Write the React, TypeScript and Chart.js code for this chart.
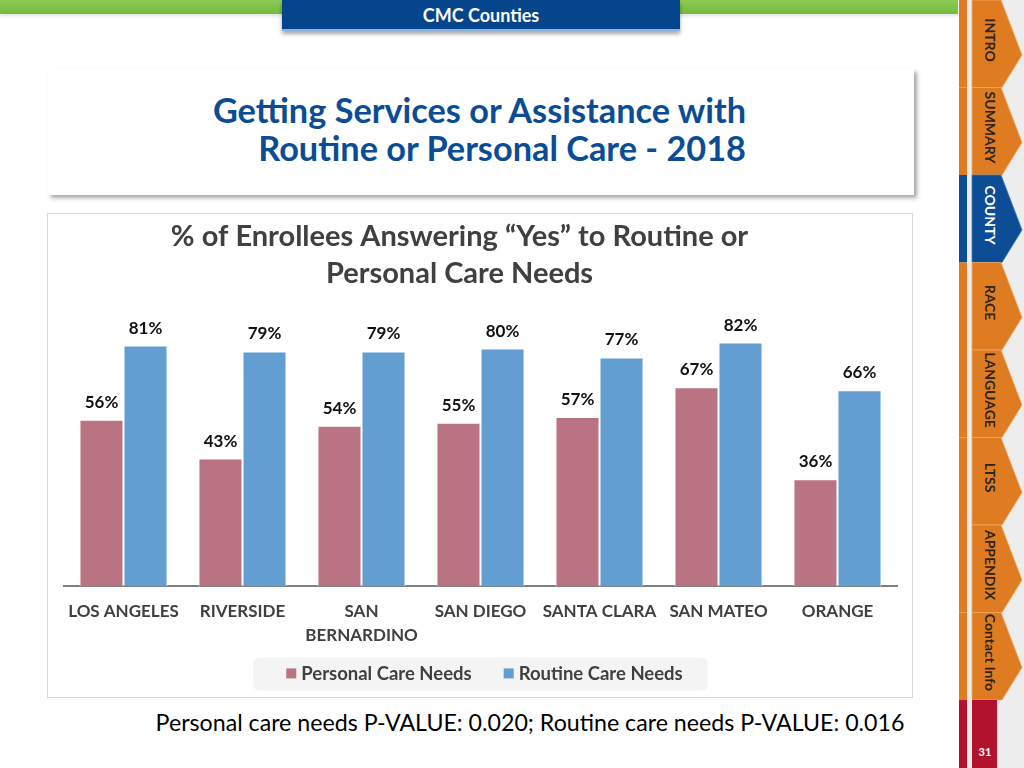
import React, { useEffect, useRef } from "react";
import { Chart, registerables } from "chart.js";

Chart.register(...registerables);

const categories: string[][] = [
  ["LOS ANGELES"],
  ["RIVERSIDE"],
  ["SAN", "BERNARDINO"],
  ["SAN DIEGO"],
  ["SANTA CLARA"],
  ["SAN MATEO"],
  ["ORANGE"],
];
const personalCare = [56, 43, 54, 55, 57, 67, 36];
const routineCare = [81, 79, 79, 80, 77, 82, 66];
const seriesNames = ["Personal Care Needs", "Routine Care Needs"];
const chartTitle = ["% of Enrollees Answering \u201cYes\u201d to Routine or", "Personal Care Needs"];
const navTabs = ["INTRO", "SUMMARY", "COUNTY", "RACE", "LANGUAGE", "LTSS", "APPENDIX", "Contact Info"];
const activeTab = "COUNTY";
const pageNumber = "31";

const PINK = "#B97382";
const BLUE = "#629ED2";
const FONT = "Lato, 'Open Sans', sans-serif";

const dataLabelPlugin = {
  id: "dataLabels",
  afterDatasetsDraw(chart: any) {
    const ctx = chart.ctx;
    ctx.save();
    ctx.font = `bold 17px ${FONT}`;
    ctx.fillStyle = "#111111";
    ctx.textAlign = "center";
    ctx.textBaseline = "alphabetic";
    chart.data.datasets.forEach((ds: any, i: number) => {
      const meta = chart.getDatasetMeta(i);
      meta.data.forEach((bar: any, j: number) => {
        ctx.fillText(ds.data[j] + "%", bar.x, bar.y - 12);
      });
    });
    ctx.restore();
  },
};

// shift the title block slightly left, as in the original slide
const titleShiftPlugin = {
  id: "titleShift",
  afterLayout(chart: any) {
    const t = chart.titleBlock;
    if (t) {
      t.left -= 21;
      t.right -= 21;
    }
  },
};

// legend drawn below the axis, with a light rounded background
const customLegendPlugin = {
  id: "customLegend",
  afterDraw(chart: any) {
    const ctx = chart.ctx;
    const area = chart.chartArea;
    const datasets = chart.data.datasets;
    ctx.save();
    ctx.font = `bold 18.5px ${FONT}`;
    const box = 10;
    const gapBoxText = 5;
    const gapItems = 32;
    const widths = datasets.map((d: any) => ctx.measureText(d.label).width);
    const total =
      widths.reduce((a: number, w: number) => a + box + gapBoxText + w, 0) +
      gapItems * (datasets.length - 1);
    const cx = (area.left + area.right) / 2 + 4;
    const cy = area.bottom + 87;
    let x = cx - total / 2;
    const bgL = x - 33;
    const bgR = cx + total / 2 + 25;
    const bgT = cy - 16;
    const bgB = cy + 17;
    const r = 6;
    ctx.fillStyle = "#F4F4F4";
    ctx.beginPath();
    ctx.moveTo(bgL + r, bgT);
    ctx.lineTo(bgR - r, bgT);
    ctx.quadraticCurveTo(bgR, bgT, bgR, bgT + r);
    ctx.lineTo(bgR, bgB - r);
    ctx.quadraticCurveTo(bgR, bgB, bgR - r, bgB);
    ctx.lineTo(bgL + r, bgB);
    ctx.quadraticCurveTo(bgL, bgB, bgL, bgB - r);
    ctx.lineTo(bgL, bgT + r);
    ctx.quadraticCurveTo(bgL, bgT, bgL + r, bgT);
    ctx.fill();
    ctx.textBaseline = "middle";
    ctx.textAlign = "left";
    datasets.forEach((d: any, i: number) => {
      ctx.fillStyle = d.backgroundColor;
      ctx.fillRect(x, cy - box / 2, box, box);
      x += box + gapBoxText;
      ctx.fillStyle = "#404040";
      ctx.fillText(d.label, x, cy + 1);
      x += widths[i] + gapItems;
    });
    ctx.restore();
  },
};

function ChartCanvas() {
  const ref = useRef<HTMLCanvasElement>(null);
  useEffect(() => {
    if (!ref.current) return;
    const chart = new Chart(ref.current, {
      type: "bar",
      data: {
        labels: categories as any,
        datasets: [
          {
            label: seriesNames[0],
            data: personalCare,
            backgroundColor: PINK,
            borderColor: "#ffffff",
            borderWidth: 1,
            categoryPercentage: 0.74,
            barPercentage: 1,
          },
          {
            label: seriesNames[1],
            data: routineCare,
            backgroundColor: BLUE,
            borderColor: "#ffffff",
            borderWidth: 1,
            categoryPercentage: 0.74,
            barPercentage: 1,
          },
        ],
      },
      options: {
        responsive: false,
        animation: false,
        devicePixelRatio: 1,
        layout: { padding: { left: 16, right: 15, top: 0, bottom: 37 } },
        plugins: {
          title: {
            display: true,
            text: chartTitle,
            color: "#404040",
            font: { family: FONT, size: 29, weight: "bold", lineHeight: 37 / 29 },
            padding: { top: 4, bottom: 0 },
          },
          legend: { display: false },
          tooltip: { enabled: false },
        },
        scales: {
          x: {
            grid: { display: false, drawTicks: false },
            border: { display: true, color: "#7F7F7F", width: 2 },
            ticks: {
              color: "#404040",
              padding: 13,
              maxRotation: 0,
              autoSkip: false,
              font: { family: FONT, size: 17, weight: "bold", lineHeight: 1.4 },
            },
          },
          y: {
            display: false,
            min: 0,
            max: 99,
          },
        },
      },
      plugins: [dataLabelPlugin, titleShiftPlugin, customLegendPlugin],
    });
    return () => chart.destroy();
  }, []);
  return (
    <canvas
      ref={ref}
      width={864}
      height={483}
      style={{ position: "absolute", left: 48, top: 214, width: 864, height: 483 }}
    />
  );
}

function Sidebar() {
  const tabH = 87.5;
  return (
    <svg
      width={66}
      height={768}
      style={{ position: "absolute", left: 958, top: 0 }}
      viewBox="958 0 66 768"
    >
      <rect x={967} y={0} width={57} height={768} fill="#EDEDED" />
      {navTabs.map((t, i) => {
        const y0 = i * tabH;
        const active = t === activeTab;
        const fill = active ? "#0C4D96" : "#DF7C22";
        return (
          <g key={t}>
            <rect x={959} y={y0} width={8} height={tabH} fill={fill} />
            <polygon
              points={`972,${y0} 1001,${y0} 1022,${y0 + 55} 1002,${y0 + tabH} 972,${y0 + tabH}`}
              fill={fill}
              stroke={active ? "#3E78B8" : "#F2A65A"}
              strokeWidth={0.8}
            />
            <text
              x={0}
              y={0}
              transform={`translate(989, ${y0 + 40}) rotate(90)`}
              textAnchor="middle"
              dominantBaseline="middle"
              fontFamily={FONT}
              fontWeight="bold"
              fontSize={14}
              fill={active ? "#ffffff" : "#2E2418"}
            >
              {t}
            </text>
          </g>
        );
      })}
      <rect x={959} y={700} width={8} height={68} fill="#B3122F" />
      <rect x={972} y={700} width={25} height={68} fill="#B3122F" />
      <text
        x={985}
        y={756}
        textAnchor="middle"
        fontFamily={FONT}
        fontWeight="bold"
        fontSize={11}
        fill="#ffffff"
      >
        {pageNumber}
      </text>
    </svg>
  );
}

export default function App() {
  return (
    <div
      style={{
        position: "fixed",
        left: 0,
        top: 0,
        width: 1024,
        height: 768,
        background: "#ffffff",
        overflow: "hidden",
        fontFamily: FONT,
      }}
    >
      <div
        style={{
          position: "absolute",
          left: 0,
          top: 0,
          width: 958,
          height: 14,
          background: "linear-gradient(#8DCB56, #74BA3C)",
          boxShadow: "0 2px 3px rgba(0,0,0,0.12)",
        }}
      />
      <div
        style={{
          position: "absolute",
          left: 282,
          top: 0,
          width: 398,
          height: 29,
          background: "#05458B",
          borderBottom: "2px solid #8FB3DC",
          boxShadow: "0 3px 4px rgba(0,0,0,0.35)",
          color: "#ffffff",
          fontWeight: "bold",
          fontSize: 18,
          lineHeight: "30px",
          textAlign: "center",
        }}
      >
        CMC Counties
      </div>
      <div
        style={{
          position: "absolute",
          left: 48,
          top: 69,
          width: 866,
          height: 126,
          background: "#ffffff",
          boxShadow: "3px 3px 4px rgba(0,0,0,0.35)",
        }}
      />
      <div
        style={{
          position: "absolute",
          left: 48,
          top: 91,
          width: 698,
          textAlign: "right",
          color: "#0B4C94",
          fontWeight: "bold",
          fontSize: 34.3,
          lineHeight: "38px",
        }}
      >
        <div>Getting Services or Assistance with</div>
        <div>Routine or Personal Care - 2018</div>
      </div>
      <div
        style={{
          position: "absolute",
          left: 47,
          top: 213,
          width: 866,
          height: 485,
          boxSizing: "border-box",
          border: "1px solid #D9D9D9",
          background: "#ffffff",
        }}
      />
      <ChartCanvas />
      <div
        style={{
          position: "absolute",
          left: 80,
          top: 707,
          width: 900,
          textAlign: "center",
          fontSize: 23.2,
          lineHeight: "30px",
          color: "#000000",
        }}
      >
        Personal care needs P-VALUE: 0.020; Routine care needs P-VALUE: 0.016
      </div>
      <Sidebar />
    </div>
  );
}
